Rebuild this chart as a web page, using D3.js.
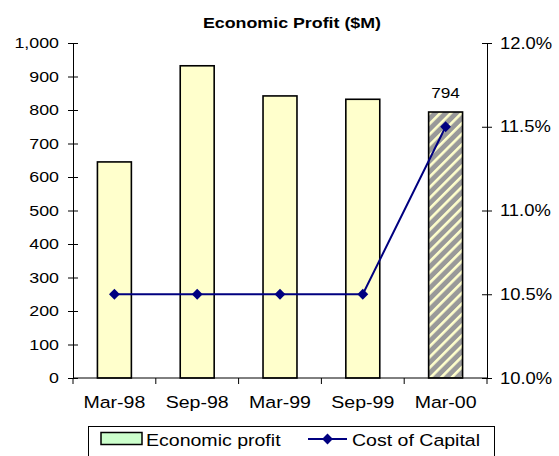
<!DOCTYPE html>
<html><head><meta charset="utf-8">
<script src="https://cdn.jsdelivr.net/npm/d3@7"></script>
<style>body{margin:0;background:#fff}svg{display:block}</style>
</head><body><svg id="c" width="559" height="456"></svg>
<script>
const categories = ["Mar-98","Sep-98","Mar-99","Sep-99","Mar-00"];
const economicProfit = [645, 932, 842, 832, 794];
const costOfCapital = [10.5, 10.5, 10.5, 10.5, 11.5];
const leftTicks = [0,100,200,300,400,500,600,700,800,900,1000];
const rightTicks = [10.0,10.5,11.0,11.5,12.0];

const FONT = "Liberation Sans, Arial, sans-serif";
const svg = d3.select("#c");
const L = 73, R = 487, T = 43, B = 378;
const x = d3.scaleBand().domain(categories).range([L, R]).paddingInner(0.59).paddingOuter(0.295);
const yL = d3.scaleLinear().domain([0,1000]).range([B, T]);
const yR = d3.scaleLinear().domain([10,12]).range([B, T]);

const defs = svg.append("defs");
const pat = defs.append("pattern").attr("id","hatch").attr("patternUnits","userSpaceOnUse")
  .attr("width",7.5).attr("height",7.5).attr("patternTransform","rotate(45)");
pat.append("rect").attr("width",7.5).attr("height",7.5).attr("fill","#999999");
pat.append("rect").attr("x",0).attr("width",2.6).attr("height",7.5).attr("fill","#FFFFCC");

// title
svg.append("text").attr("x",292).attr("y",28).attr("text-anchor","middle")
  .attr("font-size",15.5).attr("font-weight","bold").text("Economic Profit ($M)");

// bars
svg.append("g").selectAll("rect").data(economicProfit).join("rect")
  .attr("x",(d,i)=>x(categories[i])).attr("width",x.bandwidth())
  .attr("y",d=>yL(d)).attr("height",d=>B-yL(d))
  .attr("fill",(d,i)=>i===4?"url(#hatch)":"#FFFFCC")
  .attr("stroke","#000").attr("stroke-width",1.6);

// label
svg.append("text").attr("x",x(categories[4])+x.bandwidth()/2).attr("y",yL(economicProfit[4])-14)
  .attr("text-anchor","middle").attr("font-size",15).text(economicProfit[4]);

// left axis
const gL = svg.append("g").attr("transform",`translate(${L},0)`)
  .call(d3.axisLeft(yL).tickValues(leftTicks).tickSize(0).tickFormat(d3.format(",")));
gL.select(".domain").attr("stroke","#000");
gL.selectAll(".tick line").attr("x1",-5).attr("x2",5).attr("stroke","#000");
gL.selectAll(".tick text").attr("x",-14).attr("font-size",15.5).attr("fill","#000");

// right axis
const gR = svg.append("g").attr("transform",`translate(${R},0)`)
  .call(d3.axisRight(yR).tickValues(rightTicks).tickSize(0).tickFormat(d=>d3.format(".1f")(d)+"%"));
gR.select(".domain").attr("stroke","#000");
gR.selectAll(".tick line").attr("x1",-5).attr("x2",5).attr("stroke","#000");
gR.selectAll(".tick text").attr("x",13).attr("font-size",16).attr("fill","#000");

// bottom axis
const xb = d3.scalePoint().domain(d3.range(6)).range([L,R]);
const gB = svg.append("g").attr("transform",`translate(0,${B})`);
gB.append("line").attr("x1",L).attr("x2",R).attr("stroke","#000");
gB.selectAll("line.t").data(d3.range(6)).join("line").attr("class","t")
  .attr("x1",d=>xb(d)).attr("x2",d=>xb(d)).attr("y1",0).attr("y2",6).attr("stroke","#000");
gB.selectAll("text").data(categories).join("text")
  .attr("x",d=>x(d)+x.bandwidth()/2).attr("y",30).attr("text-anchor","middle")
  .attr("font-size",17).text(d=>d);

// line
const cx = (d,i)=>x(categories[i])+x.bandwidth()/2;
svg.append("path").datum(costOfCapital)
  .attr("d",d3.line().x(cx).y(d=>yR(d)))
  .attr("fill","none").attr("stroke","#000080").attr("stroke-width",2);
svg.append("g").selectAll("path").data(costOfCapital).join("path")
  .attr("transform",(d,i)=>`translate(${cx(d,i)},${yR(d)})`)
  .attr("d",d3.symbol(d3.symbolDiamond2,75)).attr("fill","#000080");

// legend
const lg = svg.append("g");
lg.append("rect").attr("x",88.5).attr("y",426.5).attr("width",406).attr("height",40)
  .attr("fill","#fff").attr("stroke","#000");
lg.append("rect").attr("x",101).attr("y",432.5).attr("width",41).attr("height",12)
  .attr("fill","#CCFFCC").attr("stroke","#000").attr("stroke-width",1.5);
lg.append("text").attr("x",146).attr("y",446).attr("font-size",17).text("Economic profit");
lg.append("line").attr("x1",308).attr("x2",347).attr("y1",439).attr("y2",439).attr("stroke","#000080").attr("stroke-width",2);
lg.append("path").attr("transform","translate(327.5,439)").attr("d",d3.symbol(d3.symbolDiamond2,75)).attr("fill","#000080");
lg.append("text").attr("x",352).attr("y",446).attr("font-size",17).text("Cost of Capital");

// horizontal stretch of all text to match reference glyph proportions
const S = 1.15;
svg.selectAll("text").attr("font-family",FONT).each(function(){
  const t = d3.select(this);
  const tx = +t.attr("x") || 0;
  t.attr("transform",`translate(${tx*(1-S)},0) scale(${S},1)`);
});
</script></body></html>
